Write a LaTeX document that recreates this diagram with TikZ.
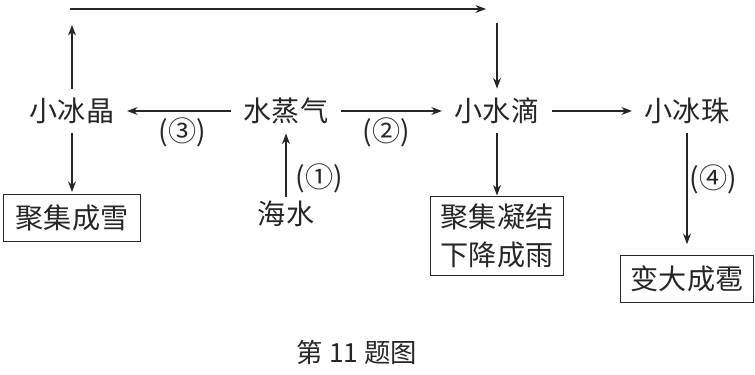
\documentclass[tikz,border=0pt]{standalone}
\usepackage{fontspec}
\setmainfont{Noto Sans CJK SC}
\usetikzlibrary{arrows.meta}

\begin{document}
\begin{tikzpicture}[x=0.02cm,y=-0.02cm,line width=0.7pt,black!85,
  >={Stealth[length=6pt,width=4.5pt]},
  every node/.style={font=\fontsize{16pt}{21.5pt}\selectfont,text=black!85},
  stage/.style={inner xsep=7pt,inner ysep=5pt},
  result/.style={draw,align=center,inner xsep=7pt,inner ysep=6pt}]
\useasboundingbox (0,0) rectangle (755,375);
% states
\node[stage] (xbj) at (72,111) {小冰晶};
\node[stage] (zqi) at (286,111) {水蒸气};
\node[stage] (xsd) at (497,111) {小水滴};
\node[stage] (xbz) at (687,111) {小冰珠};
\node[stage,inner ysep=2pt] (hsh) at (286,214) {海水};
% results
\node[result] (snow) at (72,218) {聚集成雪};
\node[result,inner xsep=6pt,inner ysep=4.5pt] (rain) at (497,236) {聚集凝结\\下降成雨};
\node[result,inner xsep=6pt] (hail) at (687,279) {变大成雹};
% free ends of the top path
\coordinate (upend) at (72,25);
\coordinate (tl) at (70,9);
\coordinate (tr) at (486,9);
\coordinate (dnbeg) at (497,23);
% connectors
\draw[->] (tl) -- (tr);
\draw[->] (xbj) -- (upend);
\draw[->] (dnbeg) -- (xsd);
\draw[->] (zqi) -- node[below,pos=0.47] {(③)} (xbj);
\draw[->] (zqi) -- node[below,pos=0.45] {(②)} (xsd);
\draw[->] (xsd) -- (xbz);
\draw[->] (hsh) -- node[right,pos=0.3,xshift=2pt] {(①)} (zqi);
\draw[->,shorten >=1pt] (xbj) -- (snow);
\draw[->] (xsd) -- (rain);
\draw[->,shorten >=6pt] (xbz) -- node[right,pos=0.38,xshift=-2pt] {(④)} (hail);
% caption
\node[font=\fontsize{15pt}{18pt}\selectfont] (cap) at (357,352) {第 11 题图};
\end{tikzpicture}
\end{document}
